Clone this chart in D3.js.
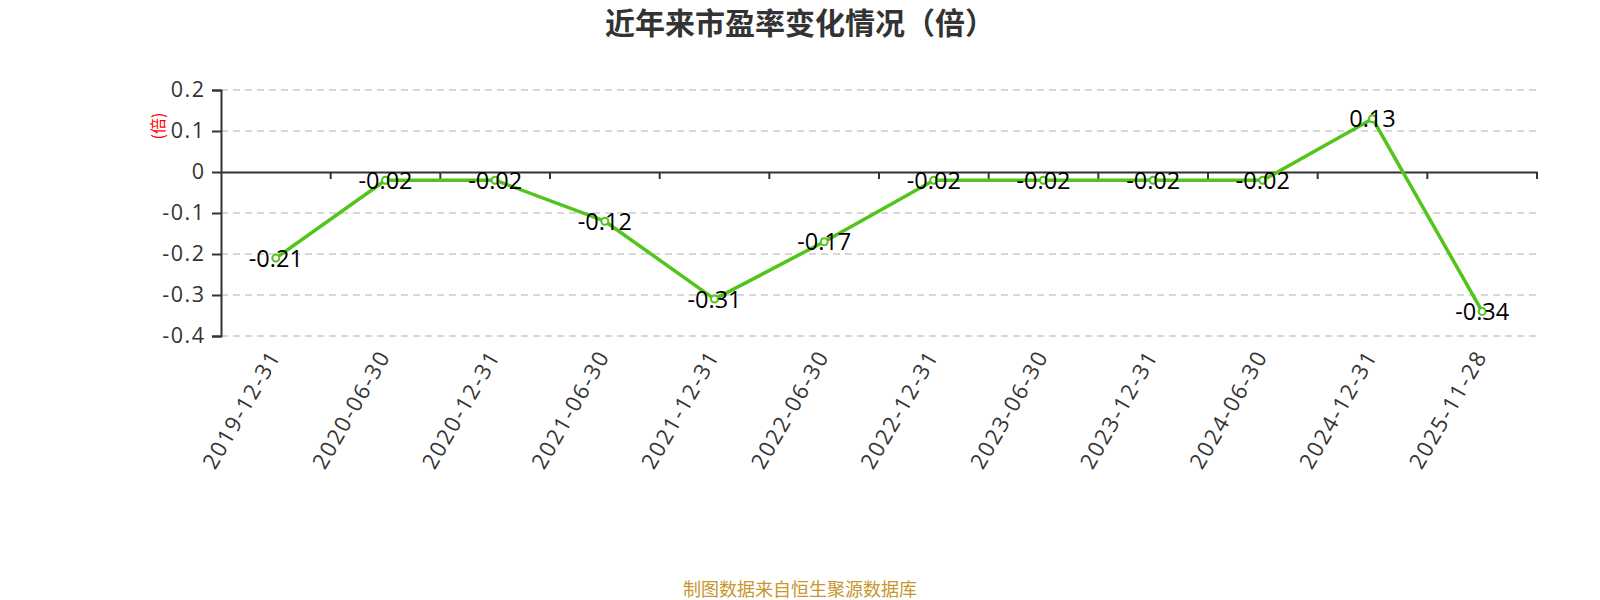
<!DOCTYPE html>
<html>
<head>
<meta charset="utf-8">
<script src="https://cdn.jsdelivr.net/npm/d3@7"></script>
<style>
  html, body { margin: 0; padding: 0; background: #fff; }
  svg { display: block; }
</style>
</head>
<body>
<svg id="chart" width="1600" height="600"></svg>
<script>
const categories = ["2019-12-31","2020-06-30","2020-12-31","2021-06-30","2021-12-31","2022-06-30","2022-12-31","2023-06-30","2023-12-31","2024-06-30","2024-12-31","2025-11-28"];
const peValues = [-0.21,-0.02,-0.02,-0.12,-0.31,-0.17,-0.02,-0.02,-0.02,-0.02,0.13,-0.34];
const yTicks = [0.2,0.1,0,-0.1,-0.2,-0.3,-0.4];
const yTickLabels = ["0.2","0.1","0","-0.1","-0.2","-0.3","-0.4"];
const titleText = "近年来市盈率变化情况（倍）";
const yAxisName = "(倍)";
const footerText = "制图数据来自恒生聚源数据库";

(function () {
const svg = d3.select("#chart");
const numFont = "'Open Sans', 'Noto Sans', 'Noto Sans CJK SC', sans-serif";
const cjkFont = "'Noto Sans CJK SC', 'Noto Sans', sans-serif";

const plotLeft = 221, plotRight = 1537, plotTop = 90, plotBottom = 336;

const x = d3.scaleBand().domain(categories).range([plotLeft, plotRight]);
const y = d3.scaleLinear().domain([-0.4, 0.2]).range([plotBottom, plotTop]);

// Title
svg.append("text")
  .attr("x", 800).attr("y", 34)
  .attr("text-anchor", "middle")
  .attr("font-family", cjkFont)
  .attr("font-weight", "bold")
  .attr("font-size", 30)
  .attr("fill", "#333")
  .text(titleText);

// Grid lines
svg.append("g").selectAll("line")
  .data(yTicks.filter(d => d !== 0))
  .join("line")
  .attr("x1", plotLeft).attr("x2", plotRight)
  .attr("y1", d => y(d)).attr("y2", d => y(d))
  .attr("stroke", "#ccc")
  .attr("stroke-width", 1.5)
  .attr("stroke-dasharray", "7,5");

// Y axis
const yAxis = d3.axisLeft(y)
  .tickValues(yTicks)
  .tickSize(9)
  .tickPadding(6.5)
  .tickFormat((d, i) => yTickLabels[i]);
const yg = svg.append("g").attr("transform", `translate(${plotLeft},0)`).call(yAxis);
yg.select(".domain").attr("stroke", "#333").attr("stroke-width", 2);
yg.selectAll(".tick line").attr("stroke", "#333").attr("stroke-width", 2);
yg.selectAll(".tick text")
  .attr("font-family", numFont)
  .attr("font-size", 21.5)
  .attr("letter-spacing", 1.5)
  .attr("fill", "#333");

// X axis at zero
const xAxis = d3.axisBottom(x).tickSize(0).tickFormat("");
const xg = svg.append("g").attr("transform", `translate(0,${y(0)})`).call(xAxis);
xg.select(".domain").attr("stroke", "#333").attr("stroke-width", 2);
xg.selectAll(".tick").remove();
const boundaries = categories.map(c => x(c) + x.bandwidth());
xg.selectAll("line.btick")
  .data(boundaries)
  .join("line")
  .attr("class", "btick")
  .attr("x1", d => d).attr("x2", d => d)
  .attr("y1", 0).attr("y2", 7)
  .attr("stroke", "#333").attr("stroke-width", 2);

// X labels (rotated, below plot)
svg.append("g").selectAll("text")
  .data(categories)
  .join("text")
  .attr("transform", d => `translate(${x(d) + x.bandwidth() / 2 - 1},${plotBottom + 16}) rotate(-60)`)
  .attr("text-anchor", "end")
  .attr("dy", "0.35em")
  .attr("font-family", numFont)
  .attr("font-size", 22)
  .attr("letter-spacing", 1.8)
  .attr("fill", "#333")
  .text(d => d);

// Y axis name
svg.append("text")
  .attr("transform", "translate(164,126) rotate(-90)")
  .attr("text-anchor", "middle")
  .attr("font-family", cjkFont)
  .attr("font-size", 16)
  .attr("fill", "#ff0000")
  .text(yAxisName);

// Line
const cx = i => x(categories[i]) + x.bandwidth() / 2;
const line = d3.line().x((d, i) => cx(i)).y(d => y(d));
svg.append("path")
  .datum(peValues)
  .attr("d", line)
  .attr("fill", "none")
  .attr("stroke", "#52c41a")
  .attr("stroke-width", 3.5)
  .attr("stroke-linejoin", "round");

// Markers
svg.append("g").selectAll("circle")
  .data(peValues)
  .join("circle")
  .attr("cx", (d, i) => cx(i))
  .attr("cy", d => y(d))
  .attr("r", 3.5)
  .attr("fill", "#fff")
  .attr("stroke", "#52c41a")
  .attr("stroke-width", 2);

// Data labels
svg.append("g").selectAll("text")
  .data(peValues)
  .join("text")
  .attr("x", (d, i) => cx(i))
  .attr("y", d => y(d))
  .attr("dy", "0.36em")
  .attr("text-anchor", "middle")
  .attr("font-family", numFont)
  .attr("font-size", 23.5)
  .attr("fill", "#000")
  .text(d => d.toFixed(2));

// Footer
svg.append("text")
  .attr("x", 800).attr("y", 596)
  .attr("text-anchor", "middle")
  .attr("font-family", cjkFont)
  .attr("font-size", 18)
  .attr("fill", "#c8962c")
  .text(footerText);
})();
</script>
</body>
</html>
